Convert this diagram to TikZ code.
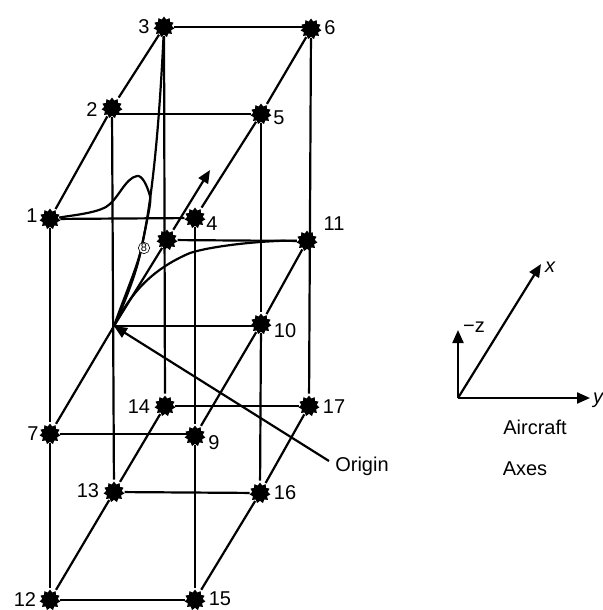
\documentclass[tikz,border=0pt]{standalone}
\usepackage{fontspec}
\setmainfont{Liberation Sans}
\usepackage{tikz}
\usetikzlibrary{arrows.meta, shapes.geometric}

\begin{document}
\begin{tikzpicture}[
    x=1pt, y=-1pt,
    pt/.style={star, star points=11, star point ratio=1.35, fill=black,
               minimum size=21pt, inner sep=0pt},
    lab/.style={inner sep=0pt, font=\fontsize{20}{22}\selectfont},
    >={Stealth[inset=0pt, length=13pt, width=11pt]},
    line width=2.2pt, line join=round
  ]
    \useasboundingbox (0,0) rectangle (602,610);

    % grid points
    \node[pt] (p1) at (50,219) {};
    \node[pt] (p2) at (112,108) {};
    \node[pt] (p3) at (164,27) {};
    \node[pt] (p4) at (195,218) {};
    \node[pt] (p5) at (261,114) {};
    \node[pt] (p6) at (311,29) {};
    \node[pt] (p7) at (50,434) {};
    \node[pt] (p8) at (167,240) {};
    \node[pt] (p9) at (195,436) {};
    \node[pt] (p10) at (261,324) {};
    \node[pt] (p11) at (307,241) {};
    \node[pt] (p12) at (50,600) {};
    \node[pt] (p13) at (114,492) {};
    \node[pt] (p14) at (165,406) {};
    \node[pt] (p15) at (195,600) {};
    \node[pt] (p16) at (260,493) {};
    \node[pt] (p17) at (309,406) {};
    \coordinate (orig) at (114,326);
    \coordinate (tip) at (210,170);

    % box edges
    \draw (p1) -- (p2);
    \draw (p2) -- (p3);
    \draw (p3) -- (p3 -| p6);
    \draw (p2 |- p5) -- (p5);
    \draw (p1) -- (p4);
    \draw (p4) -- (p5);
    \draw (p5) -- (p6);
    \draw (p8) -- (p11);
    \draw (orig) -- (orig -| p10);
    \draw (p7) -- (p7 -| p9);
    \draw (p14) -- (p17);
    \draw (p13) -- (p16);
    \draw (p12) -- (p15);
    \draw (p1) -- (p7);
    \draw (p7) -- (p12);
    \draw (p2) -- (p13);
    \draw (p3) -- (p14);
    \draw (p4) -- (p9);
    \draw (p9) -- (p15);
    \draw (p5) -- (p10);
    \draw (p10) -- (p16);
    \draw (p6) -- (p17);
    \draw (p7) -- (orig);
    \draw (orig) -- (p8);
    \draw[->] (p8) -- (tip);
    \draw (p12) -- (p13);
    \draw (p13) -- (p14);
    \draw (p9) -- (p10);
    \draw (p10) -- (p11);
    \draw (p15) -- (p16);
    \draw (p16) -- (p17);

    % curves from the origin
    \draw (orig) .. controls (125,295) and (136,270) .. (141,250)
      .. controls (146,225) and (152,200) .. (150,196)
      .. controls (147,185) and (142,175) .. (137,176)
      .. controls (125,178) and (118,200) .. (106,207)
      .. controls (95,213) and (75,215) .. (p1);
    \draw (orig) .. controls (128,295) and (137,270) .. (141,250)
      .. controls (150,210) and (158,150) .. (p3);
    \draw (orig) .. controls (130,295) and (150,270) .. (190,253)
      .. controls (215,245) and (270,240) .. (p11);

    % point 8 marker
    \node[circle, fill=white, draw=black, line width=0.6pt, inner sep=0.5pt,
          font=\fontsize{11}{11}\selectfont] (m8) at (144,248) {8};

    % labels
    \node[lab] (l1) at (32,216) {1};
    \node[lab] (l2) at (92,110) {2};
    \node[lab] (l3) at (144,27) {3};
    \node[lab] (l4) at (212,224) {4};
    \node[lab] (l5) at (279,118) {5};
    \node[lab] (l6) at (330,28) {6};
    \node[lab] (l7) at (33,434) {7};
    \node[lab] (l9) at (214,443) {9};
    \node[lab] (l10) at (285,331) {10};
    \node[lab] (l11) at (334,224) {11};
    \node[lab] (l12) at (25,600) {12};
    \node[lab] (l13) at (88,491) {13};
    \node[lab] (l14) at (139,407) {14};
    \node[lab] (l15) at (220,599) {15};
    \node[lab] (l16) at (285,493) {16};
    \node[lab] (l17) at (334,407) {17};

    % origin pointer
    \node[lab] (olab) at (362,466) {Origin};
    \coordinate (otail) at (329,461);
    \draw[->] (otail) -- (orig);

    % aircraft axes
    \coordinate (ax) at (458,398);
    \coordinate (axx) at (541,264);
    \coordinate (axz) at (458,330);
    \coordinate (axy) at (590,398);
    \draw[->] (ax) -- (axx);
    \draw[->] (ax) -- (axz);
    \draw[->] (ax) -- (axy);
    \node[lab] (lx) at (550,267) {\itshape x};
    \node[lab] (ly) at (598,400) {\itshape y};
    \node[lab] (lz) at (474,327) {−z};
    \node[lab] (air) at (535,427) {Aircraft};
    \node[lab] (axes) at (525,469) {Axes};
  \end{tikzpicture}
\end{document}
